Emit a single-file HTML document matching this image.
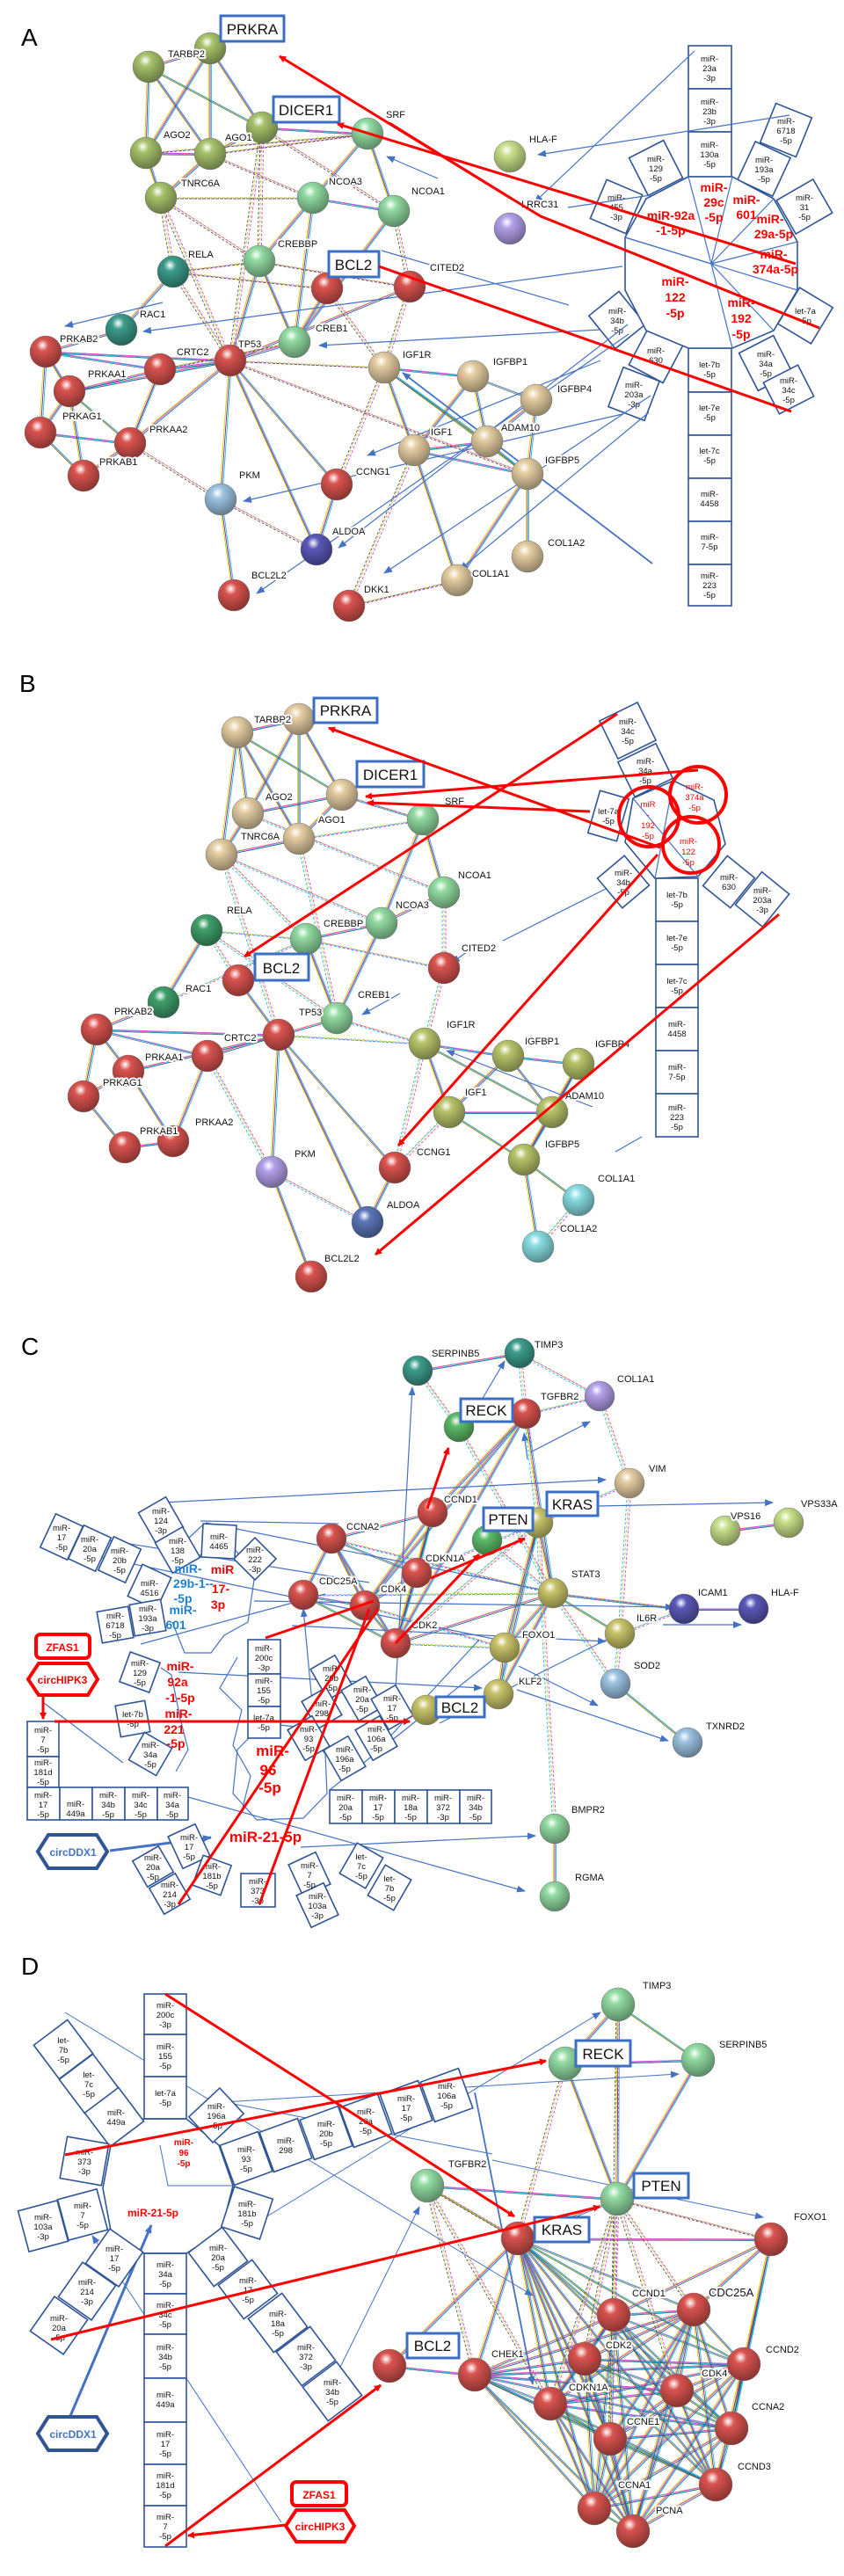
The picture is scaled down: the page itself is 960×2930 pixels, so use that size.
<!DOCTYPE html>
<html><head><meta charset="utf-8"><style>
html,body{margin:0;padding:0;background:#fff}
svg{display:block}
.l{font:11px "Liberation Sans",sans-serif;fill:#111;paint-order:stroke;stroke:#fff;stroke-width:4px;stroke-linejoin:round}
.m{font:9.5px "Liberation Sans",sans-serif;fill:#111;text-anchor:middle}
.bx{fill:#fff;stroke:#2f5597;stroke-width:1.6}
.mb{fill:none;stroke:#2f5597;stroke-width:1.6}
.bl{stroke:#4472c4;stroke-width:1.2;fill:none}
.rl{stroke:#f00;stroke-width:3;fill:none}
.kb{fill:#fff;stroke:#3a6fc4;stroke-width:3}
.kt{font:17px "Liberation Sans",sans-serif;fill:#111;text-anchor:middle}
.rt{font:bold 14px "Liberation Sans",sans-serif;fill:#f00;text-anchor:middle}
.rs{font:bold 10px "Liberation Sans",sans-serif;fill:#f00;text-anchor:middle}
.bt{font:bold 14px "Liberation Sans",sans-serif;fill:#1f7fd0;text-anchor:middle}
.P{font:28px "Liberation Sans",sans-serif;fill:#000}
.E use{stroke-width:0.9}
</style></head><body>
<svg width="960" height="2930" viewBox="0 0 960 2930" xmlns="http://www.w3.org/2000/svg" xmlns:xlink="http://www.w3.org/1999/xlink">
<defs>
<marker id="ra" markerWidth="8" markerHeight="8" refX="7" refY="4" orient="auto" markerUnits="userSpaceOnUse"><path d="M0,0 L8,4 L0,8z" fill="#f00"/></marker>
<marker id="ba" markerWidth="10" markerHeight="8" refX="9" refY="4" orient="auto" markerUnits="userSpaceOnUse"><path d="M0,0 L10,4 L0,8z" fill="#4472c4"/></marker>
<radialGradient id="gol" cx=".4" cy=".3" r=".75"><stop offset="0" stop-color="#fff"/><stop offset=".25" stop-color="#a7c26a"/><stop offset="1" stop-color="#647441"/></radialGradient>
<radialGradient id="grd" cx=".4" cy=".3" r=".75"><stop offset="0" stop-color="#fff"/><stop offset=".25" stop-color="#d9534f"/><stop offset="1" stop-color="#82322f"/></radialGradient>
<radialGradient id="gtl" cx=".4" cy=".3" r=".75"><stop offset="0" stop-color="#fff"/><stop offset=".25" stop-color="#3c9c8c"/><stop offset="1" stop-color="#245d54"/></radialGradient>
<radialGradient id="glg" cx=".4" cy=".3" r=".75"><stop offset="0" stop-color="#fff"/><stop offset=".25" stop-color="#92dba2"/><stop offset="1" stop-color="#578361"/></radialGradient>
<radialGradient id="gtn" cx=".4" cy=".3" r=".75"><stop offset="0" stop-color="#fff"/><stop offset=".25" stop-color="#e4cda2"/><stop offset="1" stop-color="#897b61"/></radialGradient>
<radialGradient id="gpu" cx=".4" cy=".3" r=".75"><stop offset="0" stop-color="#fff"/><stop offset=".25" stop-color="#b3a1ea"/><stop offset="1" stop-color="#6b608c"/></radialGradient>
<radialGradient id="gbp" cx=".4" cy=".3" r=".75"><stop offset="0" stop-color="#fff"/><stop offset=".25" stop-color="#5a58b8"/><stop offset="1" stop-color="#36356e"/></radialGradient>
<radialGradient id="glb" cx=".4" cy=".3" r=".75"><stop offset="0" stop-color="#fff"/><stop offset=".25" stop-color="#9cc3e2"/><stop offset="1" stop-color="#5e7588"/></radialGradient>
<radialGradient id="gyo" cx=".4" cy=".3" r=".75"><stop offset="0" stop-color="#fff"/><stop offset=".25" stop-color="#c9c46a"/><stop offset="1" stop-color="#79763f"/></radialGradient>
<radialGradient id="gcy" cx=".4" cy=".3" r=".75"><stop offset="0" stop-color="#fff"/><stop offset=".25" stop-color="#88dde2"/><stop offset="1" stop-color="#528588"/></radialGradient>
<radialGradient id="ggr" cx=".4" cy=".3" r=".75"><stop offset="0" stop-color="#fff"/><stop offset=".25" stop-color="#5cbc68"/><stop offset="1" stop-color="#37713e"/></radialGradient>
<radialGradient id="gdg" cx=".4" cy=".3" r=".75"><stop offset="0" stop-color="#fff"/><stop offset=".25" stop-color="#3f9f6a"/><stop offset="1" stop-color="#265f40"/></radialGradient>
<radialGradient id="gly" cx=".4" cy=".3" r=".75"><stop offset="0" stop-color="#fff"/><stop offset=".25" stop-color="#c8e08a"/><stop offset="1" stop-color="#788653"/></radialGradient>
<radialGradient id="go2" cx=".4" cy=".3" r=".75"><stop offset="0" stop-color="#fff"/><stop offset=".25" stop-color="#b8c46a"/><stop offset="1" stop-color="#6e763f"/></radialGradient>
<radialGradient id="gbb" cx=".4" cy=".3" r=".75"><stop offset="0" stop-color="#fff"/><stop offset=".25" stop-color="#5b76b8"/><stop offset="1" stop-color="#37476e"/></radialGradient>

<path id="eA" fill="none" d="M169 76L239 55M169 76L166 174M169 76L239 175M169 76L298 145M239 55L166 174M239 55L239 175M239 55L298 145M166 174L239 175M166 174L183 225M239 175L298 145M239 175L183 225M298 145L418 152M418 152L356 225M418 152L448 240M356 225L448 240M356 225L295 297M356 225L335 389M448 240L335 389M295 297L335 389M295 297L262 410M197 309L138 375M372 328L335 389M262 410L335 389M262 410L182 420M262 410L52 400M262 410L79 445M262 410L148 504M262 410L251 568M262 410L383 551M262 410L360 625M182 420L52 400M182 420L79 445M182 420L148 504M52 400L79 445M52 400L46 492M79 445L46 492M79 445L148 504M46 492L95 541M46 492L148 504M148 504L95 541M79 445L95 541M437 418L538 428M437 418L471 512M437 418L554 502M437 418L600 539M538 428L610 455M538 428L471 512M538 428L554 502M610 455L554 502M610 455L600 539M471 512L554 502M471 512L600 539M554 502L600 539M471 512L520 660M600 539L600 633M600 539L520 660M251 568L266 677M383 551L360 625M262 410L466 326M182 420L148 504M138 375L52 400"/>
<path id="dA" fill="none" d="M298 145L295 297M239 175L356 225M183 225L356 225M183 225L295 297M166 174L418 152M239 175L418 152M298 145L448 240M197 309L295 297M197 309L372 328M197 309L262 410M295 297L466 326M372 328L437 418M466 326L437 418M262 410L437 418M182 420L335 389M148 504L251 568M251 568L360 625M383 551L437 418M471 512L397 689M262 410L600 539M183 225L262 410M298 145L262 410M520 660L397 689M466 326L448 240M183 225L197 309"/>
<path id="eB" fill="none" d="M270 833L340 818M270 833L282 925M270 833L389 904M270 833L340 954M270 833L252 972M340 818L389 904M340 818L282 925M340 818L340 954M282 925L389 904M282 925L252 972M389 904L340 954M340 954L252 972M481 932L505 1015M481 932L434 1050M505 1015L434 1050M434 1050L348 1068M434 1050L383 1158M348 1068L383 1158M235 1058L186 1140M271 1115L317 1177M317 1177L110 1171M317 1177L236 1201M317 1177L146 1218M317 1177L309 1333M317 1177L449 1328M317 1177L418 1390M317 1177L383 1158M110 1171L236 1201M110 1171L95 1247M110 1171L146 1218M95 1247L142 1305M95 1247L146 1218M146 1218L197 1298M236 1201L197 1298M142 1305L197 1298M483 1187L578 1201M483 1187L511 1265M483 1187L628 1265M578 1201L658 1210M578 1201L511 1265M578 1201L628 1265M658 1210L628 1265M658 1210L596 1319M511 1265L628 1265M511 1265L596 1319M628 1265L596 1319M596 1319L658 1365M596 1319L612 1418M309 1333L354 1452M449 1328L418 1390M481 932L389 904M186 1140L110 1171"/>
<path id="dB" fill="none" d="M389 904L481 932M340 954L481 932M252 972L434 1050M252 972L348 1068M282 925L505 1015M235 1058L348 1068M235 1058L383 1158M348 1068L505 1101M505 1101L483 1187M383 1158L483 1187M317 1177L483 1187M309 1333L418 1390M449 1328L483 1187M511 1265L449 1328M236 1201L309 1333M252 972L317 1177M340 954L383 1158M612 1418L658 1365M505 1015L505 1101M348 1068L186 1140M235 1058L271 1115"/>
<path id="eC" fill="none" d="M377 1750L492 1720M377 1750L474 1789M377 1750L345 1814M377 1750L415 1826M377 1750L450 1869M345 1814L415 1826M345 1814L450 1869M415 1826L450 1869M415 1826L492 1720M474 1789L492 1720M474 1789L450 1869M474 1789L415 1826M450 1869L492 1720M492 1720L598 1608M415 1826L598 1608M450 1869L598 1608M629 1812L598 1608M629 1812L574 1874M629 1812L567 1927M629 1812L705 1858M629 1812L612 1732M574 1874L567 1927M574 1874L612 1732M567 1927L612 1732M700 1915L782 1982M778 1830L857 1830M825 1741L897 1732M631 2080L631 2157M475 1559L591 1539M629 1812L450 1869M629 1812L778 1830"/>
<path id="dC" fill="none" d="M591 1539L598 1608M591 1539L682 1588M598 1608L682 1588M682 1588L716 1687M475 1559L522 1623M598 1608L612 1732M522 1623L629 1812M612 1732L716 1687M554 1752L629 1812M377 1750L629 1812M345 1814L629 1812M450 1869L574 1874M415 1826L574 1874M629 1812L700 1915M705 1858L778 1830M705 1858L716 1687M567 1927L485 1945M631 2080L612 1732M612 1732L450 1869M474 1789L612 1732M705 1858L700 1915M629 1812L778 1830"/>
<path id="eD" fill="none" d="M589 2546L698 2633M589 2546L789 2627M589 2546L665 2683M589 2546L540 2701M589 2546L846 2689M589 2546L770 2719M589 2546L626 2734M589 2546L832 2762M589 2546L694 2774M589 2546L814 2826M589 2546L676 2853M589 2546L720 2879
M698 2633L789 2627M698 2633L665 2683M698 2633L540 2701M698 2633L846 2689M698 2633L770 2719M698 2633L626 2734M698 2633L832 2762M698 2633L694 2774M698 2633L814 2826M698 2633L676 2853M698 2633L720 2879
M789 2627L665 2683M789 2627L540 2701M789 2627L846 2689M789 2627L770 2719M789 2627L626 2734M789 2627L832 2762M789 2627L694 2774M789 2627L814 2826M789 2627L676 2853M789 2627L720 2879
M665 2683L540 2701M665 2683L846 2689M665 2683L770 2719M665 2683L626 2734M665 2683L832 2762M665 2683L694 2774M665 2683L814 2826M665 2683L676 2853M665 2683L720 2879
M540 2701L846 2689M540 2701L770 2719M540 2701L626 2734M540 2701L832 2762M540 2701L694 2774M540 2701L814 2826M540 2701L676 2853M540 2701L720 2879
M846 2689L770 2719M846 2689L626 2734M846 2689L832 2762M846 2689L694 2774M846 2689L814 2826M846 2689L676 2853M846 2689L720 2879
M770 2719L626 2734M770 2719L832 2762M770 2719L694 2774M770 2719L814 2826M770 2719L676 2853M770 2719L720 2879
M626 2734L832 2762M626 2734L694 2774M626 2734L814 2826M626 2734L676 2853M626 2734L720 2879
M832 2762L694 2774M832 2762L814 2826M832 2762L676 2853M832 2762L720 2879
M694 2774L814 2826M694 2774L676 2853M694 2774L720 2879M814 2826L676 2853M814 2826L720 2879M676 2853L720 2879
M703 2280L643 2347M703 2280L794 2343M643 2347L794 2343M703 2280L702 2501M643 2347L702 2501M794 2343L702 2501M486 2486L702 2501M486 2486L589 2546M702 2501L589 2546M589 2546L877 2547M877 2547L789 2627M877 2547L846 2689M443 2691L540 2701M443 2691L589 2546M877 2547L698 2633M877 2547L832 2762"/>
<path id="dD" fill="none" d="M702 2501L698 2633M702 2501L665 2683M702 2501L789 2627M702 2501L770 2719M702 2501L877 2547M486 2486L540 2701M486 2486L626 2734M643 2347L589 2546M703 2280L698 2633M702 2501L626 2734M486 2486L589 2546M702 2501L694 2774"/>
</defs>
<rect width="960" height="2930" fill="#fff"/>

<!-- edges -->
<g class="E">
<use xlink:href="#eA" href="#eA" stroke="#c8d400" transform="translate(-1.6,0)"/><use xlink:href="#eA" href="#eA" stroke="#e040e0"/><use xlink:href="#eA" href="#eA" stroke="#20b8e8" transform="translate(1.6,1)"/><use xlink:href="#eA" href="#eA" stroke="#333" transform="translate(0,1.8)" style="stroke-width:.5"/>
<use xlink:href="#dA" href="#dA" stroke="#b8d020" stroke-dasharray="3,2"/><use xlink:href="#dA" href="#dA" stroke="#e040e0" stroke-dasharray="3,2" transform="translate(2,1)"/><use xlink:href="#dA" href="#dA" stroke="#555" stroke-dasharray="3,2" transform="translate(-2,1)"/>
<use xlink:href="#eB" href="#eB" stroke="#c8d400" transform="translate(-1.6,0)"/><use xlink:href="#eB" href="#eB" stroke="#e040e0"/><use xlink:href="#eB" href="#eB" stroke="#20b8e8" transform="translate(1.6,1)"/><use xlink:href="#eB" href="#eB" stroke="#333" transform="translate(0,1.8)" style="stroke-width:.5"/>
<use xlink:href="#dB" href="#dB" stroke="#b8d020" stroke-dasharray="3,2"/><use xlink:href="#dB" href="#dB" stroke="#e040e0" stroke-dasharray="3,2" transform="translate(2,1)"/><use xlink:href="#dB" href="#dB" stroke="#20b8e8" stroke-dasharray="3,2" transform="translate(-2,1)"/>
<use xlink:href="#eC" href="#eC" stroke="#c8d400" transform="translate(-1.6,0)"/><use xlink:href="#eC" href="#eC" stroke="#e040e0"/><use xlink:href="#eC" href="#eC" stroke="#20b8e8" transform="translate(1.6,1)"/><use xlink:href="#eC" href="#eC" stroke="#333" transform="translate(0,1.8)" style="stroke-width:.5"/>
<use xlink:href="#dC" href="#dC" stroke="#b8d020" stroke-dasharray="3,2"/><use xlink:href="#dC" href="#dC" stroke="#e040e0" stroke-dasharray="3,2" transform="translate(2,1)"/><use xlink:href="#dC" href="#dC" stroke="#20b8e8" stroke-dasharray="3,2" transform="translate(-2,1)"/>
<use xlink:href="#eD" href="#eD" stroke="#c8d400" transform="translate(-1.6,0)"/><use xlink:href="#eD" href="#eD" stroke="#e040e0"/><use xlink:href="#eD" href="#eD" stroke="#20b8e8" transform="translate(1.6,1)"/><use xlink:href="#eD" href="#eD" stroke="#333" transform="translate(0,1.8)" style="stroke-width:.5"/>
<use xlink:href="#dD" href="#dD" stroke="#b8d020" stroke-dasharray="3,2"/><use xlink:href="#dD" href="#dD" stroke="#e040e0" stroke-dasharray="3,2" transform="translate(2,1)"/><use xlink:href="#dD" href="#dD" stroke="#555" stroke-dasharray="3,2" transform="translate(-2,1)"/>
</g>

<!-- ===== PANEL A miR ===== -->
<g>
<rect class="bx" x="783" y="52" width="49" height="49"/><rect class="bx" x="783" y="101" width="49" height="49"/><rect class="bx" x="783" y="150" width="49" height="51"/>
<rect class="bx" x="783" y="396" width="49" height="50"/><rect class="bx" x="783" y="446" width="49" height="49"/><rect class="bx" x="783" y="495" width="49" height="49"/><rect class="bx" x="783" y="544" width="49" height="49"/><rect class="bx" x="783" y="593" width="49" height="49"/><rect class="bx" x="783" y="642" width="49" height="47"/>
<g transform="translate(746,191) rotate(-27)"><rect class="bx" x="-22" y="-24" width="44" height="48"/></g>
<g transform="translate(701,235) rotate(23)"><rect class="bx" x="-22" y="-24" width="44" height="48"/></g>
<g transform="translate(894,148) rotate(22)"><rect class="bx" x="-22" y="-24" width="44" height="48"/></g>
<g transform="translate(869,192) rotate(25)"><rect class="bx" x="-22" y="-24" width="44" height="48"/></g>
<g transform="translate(915,235) rotate(60)"><rect class="bx" x="-22" y="-24" width="44" height="48"/></g>
<g transform="translate(916,359) rotate(31)"><rect class="bx" x="-22" y="-24" width="44" height="48"/></g>
<g transform="translate(871,413) rotate(-27)"><rect class="bx" x="-22" y="-24" width="44" height="48"/></g>
<g transform="translate(897,443) rotate(-27)"><rect class="bx" x="-22" y="-20" width="44" height="40"/></g>
<g transform="translate(702,364) rotate(-39)"><rect class="bx" x="-22" y="-24" width="44" height="48"/></g>
<g transform="translate(746,404) rotate(28)"><rect class="bx" x="-22" y="-24" width="44" height="48"/></g>
<g transform="translate(721,448) rotate(21)"><rect class="bx" x="-22" y="-24" width="44" height="48"/></g>
<polygon class="bx" points="783,201 833,201 880,226 907,275 907,330 880,376 833,396 783,396 735,376 711,330 711,270 735,226"/>
<g class="bl"><line x1="809" y1="300" x2="783" y2="201"/><line x1="809" y1="300" x2="833" y2="201"/><line x1="809" y1="300" x2="880" y2="226"/><line x1="809" y1="300" x2="907" y2="275"/><line x1="809" y1="300" x2="711" y2="270"/><line x1="809" y1="300" x2="833" y2="396"/><line x1="809" y1="300" x2="880" y2="376"/><line x1="711" y1="270" x2="907" y2="330"/></g>
<text class="m" x="807" y="70">miR-<tspan x="807" dy="11">23a</tspan><tspan x="807" dy="11">-3p</tspan></text>
<text class="m" x="807" y="119">miR-<tspan x="807" dy="11">23b</tspan><tspan x="807" dy="11">-3p</tspan></text>
<text class="m" x="807" y="168">miR-<tspan x="807" dy="11">130a</tspan><tspan x="807" dy="11">-5p</tspan></text>
<text class="m" x="746" y="184">miR-<tspan x="746" dy="11">129</tspan><tspan x="746" dy="11">-5p</tspan></text>
<text class="m" x="701" y="228">miR-<tspan x="701" dy="11">455</tspan><tspan x="701" dy="11">-3p</tspan></text>
<text class="m" x="894" y="141">miR-<tspan x="894" dy="11">6718</tspan><tspan x="894" dy="11">-5p</tspan></text>
<text class="m" x="869" y="185">miR-<tspan x="869" dy="11">193a</tspan><tspan x="869" dy="11">-5p</tspan></text>
<text class="m" x="915" y="228">miR-<tspan x="915" dy="11">31</tspan><tspan x="915" dy="11">-5p</tspan></text>
<text class="m" x="916" y="357">let-7a<tspan x="916" dy="11">-5p</tspan></text>
<text class="m" x="871" y="406">miR-<tspan x="871" dy="11">34a</tspan><tspan x="871" dy="11">-5p</tspan></text>
<text class="m" x="897" y="436">miR-<tspan x="897" dy="11">34c</tspan><tspan x="897" dy="11">-5p</tspan></text>
<text class="m" x="702" y="357">miR-<tspan x="702" dy="11">34b</tspan><tspan x="702" dy="11">-5p</tspan></text>
<text class="m" x="746" y="402">miR-<tspan x="746" dy="11">630</tspan></text>
<text class="m" x="721" y="441">miR-<tspan x="721" dy="11">203a</tspan><tspan x="721" dy="11">-3p</tspan></text>
<text class="m" x="807" y="418">let-7b<tspan x="807" dy="11">-5p</tspan></text>
<text class="m" x="807" y="467">let-7e<tspan x="807" dy="11">-5p</tspan></text>
<text class="m" x="807" y="516">let-7c<tspan x="807" dy="11">-5p</tspan></text>
<text class="m" x="807" y="565">miR-<tspan x="807" dy="11">4458</tspan></text>
<text class="m" x="807" y="614">miR-<tspan x="807" dy="11">7-5p</tspan></text>
<text class="m" x="807" y="658">miR-<tspan x="807" dy="11">223</tspan><tspan x="807" dy="11">-5p</tspan></text>
<text class="rt" x="763" y="250">miR-92a<tspan x="763" dy="17">-1-5p</tspan></text>
<text class="rt" x="812" y="218">miR-<tspan x="812" dy="17">29c</tspan><tspan x="812" dy="17">-5p</tspan></text>
<text class="rt" x="849" y="232">miR-<tspan x="849" dy="17">601</tspan></text>
<text class="rt" x="876" y="254">miR-<tspan x="880" dy="17">29a-5p</tspan></text>
<text class="rt" x="880" y="294">miR-<tspan x="882" dy="17">374a-5p</tspan></text>
<text class="rt" x="768" y="325">miR-<tspan x="768" dy="18">122</tspan><tspan x="768" dy="18">-5p</tspan></text>
<text class="rt" x="843" y="349">miR-<tspan x="843" dy="18">192</tspan><tspan x="843" dy="18">-5p</tspan></text>
</g>
<g class="bl">
<line x1="790" y1="58" x2="608" y2="230" marker-end="url(#ba)"/>
<line x1="898" y1="131" x2="612" y2="176" marker-end="url(#ba)"/>
<line x1="708" y1="303" x2="163" y2="377" marker-end="url(#ba)"/>
<line x1="683" y1="375" x2="363" y2="393" marker-end="url(#ba)"/>
<line x1="498" y1="203" x2="440" y2="178" marker-end="url(#ba)"/>
<line x1="708" y1="471" x2="277" y2="570" marker-end="url(#ba)"/>
<line x1="185" y1="344" x2="74" y2="371" marker-end="url(#ba)"/>
<line x1="714" y1="369" x2="385" y2="623" marker-end="url(#ba)"/>
<line x1="742" y1="641" x2="458" y2="424" marker-end="url(#ba)" stroke-width="1.8"/>
<line x1="683" y1="410" x2="418" y2="518" marker-end="url(#ba)"/>
<line x1="738" y1="469" x2="523" y2="648" marker-end="url(#ba)"/>
<line x1="715" y1="380" x2="292" y2="675" marker-end="url(#ba)"/>
<line x1="740" y1="450" x2="437" y2="652" marker-end="url(#ba)"/>
<line x1="647" y1="347" x2="434" y2="285"/>
<line x1="740" y1="222" x2="646" y2="236"/>
</g>

<!-- ===== PANEL B miR ===== -->
<g>
<rect class="bx" x="746" y="999" width="48" height="49"/><rect class="bx" x="746" y="1048" width="48" height="49"/><rect class="bx" x="746" y="1097" width="48" height="49"/><rect class="bx" x="746" y="1146" width="48" height="49"/><rect class="bx" x="746" y="1195" width="48" height="49"/><rect class="bx" x="746" y="1244" width="48" height="49"/>
<g transform="translate(714,831) rotate(-26)"><rect class="bx" x="-24" y="-24" width="48" height="48"/></g>
<g transform="translate(734,876) rotate(-26)"><rect class="bx" x="-24" y="-22" width="48" height="44"/></g>
<g transform="translate(692,928) rotate(16)"><rect class="bx" x="-17" y="-25" width="34" height="50"/></g>
<g transform="translate(709,1003) rotate(-40)"><rect class="bx" x="-20" y="-22" width="40" height="44"/></g>
<g transform="translate(829,1003) rotate(39)"><rect class="bx" x="-20" y="-22" width="40" height="44"/></g>
<g transform="translate(867,1023) rotate(39)"><rect class="bx" x="-20" y="-24" width="40" height="48"/></g>
<polygon class="bx" points="720,908 766,888 812,910 825,960 794,997 745,999 711,958"/>
<g class="bl"><line x1="766" y1="888" x2="745" y2="999"/><line x1="720" y1="908" x2="794" y2="997"/></g>
<text class="m" x="714" y="824">miR-<tspan x="714" dy="11">34c</tspan><tspan x="714" dy="11">-5p</tspan></text>
<text class="m" x="734" y="869">miR-<tspan x="734" dy="11">34a</tspan><tspan x="734" dy="11">-5p</tspan></text>
<text class="m" x="692" y="926">let-7a<tspan x="692" dy="11">-5p</tspan></text>
<text class="m" x="709" y="996">miR-<tspan x="709" dy="11">34b</tspan><tspan x="709" dy="11">-5p</tspan></text>
<text class="m" x="829" y="1001">miR-<tspan x="829" dy="11">630</tspan></text>
<text class="m" x="867" y="1016">miR-<tspan x="867" dy="11">203a</tspan><tspan x="867" dy="11">-3p</tspan></text>
<text class="m" x="770" y="1021">let-7b<tspan x="770" dy="11">-5p</tspan></text>
<text class="m" x="770" y="1070">let-7e<tspan x="770" dy="11">-5p</tspan></text>
<text class="m" x="770" y="1119">let-7c<tspan x="770" dy="11">-5p</tspan></text>
<text class="m" x="770" y="1168">miR-<tspan x="770" dy="11">4458</tspan></text>
<text class="m" x="770" y="1217">miR-<tspan x="770" dy="11">7-5p</tspan></text>
<text class="m" x="770" y="1263">miR-<tspan x="770" dy="11">223</tspan><tspan x="770" dy="11">-5p</tspan></text>
<text class="m" x="790" y="898" style="fill:#f00">miR-<tspan x="790" dy="12">374a</tspan><tspan x="790" dy="12">-5p</tspan></text>
<text class="m" x="737" y="918" style="fill:#f00">miR<tspan x="737" dy="12">-</tspan><tspan x="737" dy="12">192</tspan><tspan x="737" dy="12">-5p</tspan></text>
<text class="m" x="783" y="960" style="fill:#f00">miR-<tspan x="783" dy="12">122</tspan><tspan x="783" dy="12">-5p</tspan></text>
<g fill="none" stroke="#f00" stroke-width="4"><circle cx="738" cy="929" r="34"/><circle cx="794" cy="904" r="32"/><circle cx="786" cy="961" r="32"/></g>
</g>
<g class="bl">
<line x1="689" y1="1011" x2="572" y2="1070"/>
<line x1="535" y1="1080" x2="514" y2="1095" marker-end="url(#ba)"/>
<line x1="674" y1="1259" x2="508" y2="1195" marker-end="url(#ba)"/>
<line x1="455" y1="1130" x2="412" y2="1154" marker-end="url(#ba)"/>
<line x1="700" y1="1310" x2="730" y2="1293"/>
</g>

<!-- ===== PANEL C miR ===== -->
<g>
<g class="bl">
<polyline points="198,1765 230,1735 265,1760 290,1790 282,1845 255,1860 240,1880 210,1880 196,1845"/>
<polyline points="270,1885 250,1920 275,1945 265,1985 285,2020 275,2060"/>
<polygon points="270,1990 300,1960 345,1965 370,1995 372,2040 345,2068 292,2070 265,2040"/>
<polyline points="183,1897 195,1905 205,1955 214,1990 200,2015"/>
<line x1="46" y1="1757" x2="590" y2="1870"/>
<line x1="185" y1="1709" x2="689" y2="1683" marker-end="url(#ba)"/>
<line x1="228" y1="1730" x2="385" y2="1733"/>
<line x1="680" y1="1713" x2="879" y2="1709" marker-end="url(#ba)"/>
<line x1="754" y1="1848" x2="843" y2="1848" marker-end="url(#ba)"/>
<line x1="448" y1="1959" x2="469" y2="1578" marker-end="url(#ba)"/>
<line x1="548" y1="1592" x2="574" y2="1548" marker-end="url(#ba)"/>
<line x1="603" y1="1652" x2="671" y2="1617" marker-end="url(#ba)"/>
<line x1="588" y1="1922" x2="760" y2="1980" marker-end="url(#ba)"/>
<line x1="342" y1="2101" x2="609" y2="2088" marker-end="url(#ba)"/>
<line x1="203" y1="2041" x2="597" y2="2151" marker-end="url(#ba)"/>
<line x1="289" y1="1821" x2="766" y2="1828" marker-end="url(#ba)"/>
<line x1="332" y1="1849" x2="689" y2="1867" marker-end="url(#ba)"/>
<line x1="203" y1="1902" x2="548" y2="1920" marker-end="url(#ba)"/>
<line x1="234" y1="1732" x2="615" y2="1808"/>
<line x1="98" y1="1748" x2="420" y2="1800"/>
<line x1="50" y1="1937" x2="140" y2="2005"/>
<line x1="590" y1="1895" x2="680" y2="1940" marker-end="url(#ba)"/>
<line x1="600" y1="1660" x2="596" y2="1630" marker-end="url(#ba)"/>
<line x1="430" y1="1990" x2="545" y2="1865" />
<line x1="375" y1="2036" x2="570" y2="1880"/>
<line x1="160" y1="1870" x2="370" y2="1813"/>
<line x1="360" y1="1990" x2="345" y2="1830" marker-end="url(#ba)"/>
<line x1="500" y1="1960" x2="700" y2="1860" marker-end="url(#ba)"/>
<line x1="125" y1="2105" x2="240" y2="2090" stroke-width="3" marker-end="url(#ba)"/>
</g>
<g transform="translate(70,1748) rotate(25)"><rect class="bx" x="-17" y="-21" width="34" height="42"/></g>
<g transform="translate(102,1761) rotate(25)"><rect class="bx" x="-17" y="-21" width="34" height="42"/></g>
<g transform="translate(136,1774) rotate(25)"><rect class="bx" x="-17" y="-21" width="34" height="42"/></g>
<g transform="translate(183,1729) rotate(-30)"><rect class="bx" x="-18" y="-20" width="36" height="40"/></g>
<g transform="translate(202,1763) rotate(-30)"><rect class="bx" x="-18" y="-20" width="36" height="40"/></g>
<g transform="translate(249,1753) rotate(3)"><rect class="bx" x="-19" y="-19" width="38" height="38"/></g>
<g transform="translate(290,1773) rotate(45)"><rect class="bx" x="-17" y="-17" width="34" height="34"/></g>
<g transform="translate(170,1805) rotate(25)"><rect class="bx" x="-18" y="-20" width="36" height="40"/></g>
<g transform="translate(131,1848) rotate(-10)"><rect class="bx" x="-18" y="-18" width="36" height="36"/></g>
<g transform="translate(168,1840) rotate(-10)"><rect class="bx" x="-18" y="-18" width="36" height="36"/></g>
<g transform="translate(159,1902) rotate(20)"><rect class="bx" x="-18" y="-18" width="36" height="36"/></g>
<g transform="translate(151,1955) rotate(-10)"><rect class="bx" x="-17" y="-18" width="34" height="36"/></g>
<g transform="translate(171,1995) rotate(30)"><rect class="bx" x="-18" y="-18" width="36" height="36"/></g>
<rect class="bx" x="282" y="1865" width="37" height="39"/><rect class="bx" x="282" y="1904" width="37" height="37"/><rect class="bx" x="282" y="1941" width="37" height="36"/>
<g transform="translate(377,1908) rotate(-30)"><rect class="bx" x="-16" y="-20" width="32" height="40"/></g>
<g transform="translate(412,1932) rotate(-30)"><rect class="bx" x="-16" y="-20" width="32" height="40"/></g>
<g transform="translate(446,1942) rotate(-30)"><rect class="bx" x="-16" y="-20" width="32" height="40"/></g>
<g transform="translate(366,1943) rotate(-30)"><rect class="bx" x="-16" y="-18" width="32" height="36"/></g>
<g transform="translate(351,1977) rotate(-30)"><rect class="bx" x="-16" y="-20" width="32" height="40"/></g>
<g transform="translate(428,1977) rotate(-30)"><rect class="bx" x="-16" y="-20" width="32" height="40"/></g>
<g transform="translate(392,2000) rotate(-30)"><rect class="bx" x="-16" y="-20" width="32" height="40"/></g>
<rect class="bx" x="31" y="1958" width="36" height="40"/><rect class="bx" x="31" y="1998" width="36" height="35"/>
<rect class="bx" x="31" y="2033" width="37" height="37"/><rect class="bx" x="68" y="2033" width="37" height="37"/><rect class="bx" x="105" y="2033" width="37" height="37"/><rect class="bx" x="142" y="2033" width="37" height="37"/><rect class="bx" x="179" y="2033" width="35" height="37"/>
<rect class="bx" x="375" y="2036" width="37" height="38"/><rect class="bx" x="412" y="2036" width="37" height="38"/><rect class="bx" x="449" y="2036" width="37" height="38"/><rect class="bx" x="486" y="2036" width="37" height="38"/><rect class="bx" x="523" y="2036" width="36" height="38"/>
<g transform="translate(174,2123) rotate(-30)"><rect class="bx" x="-17" y="-17" width="34" height="34"/></g>
<g transform="translate(193,2154) rotate(-30)"><rect class="bx" x="-17" y="-17" width="34" height="34"/></g>
<g transform="translate(215,2100) rotate(-25)"><rect class="bx" x="-17" y="-20" width="34" height="40"/></g>
<g transform="translate(241,2133) rotate(20)"><rect class="bx" x="-17" y="-18" width="34" height="36"/></g>
<rect class="bx" x="274" y="2131" width="39" height="38"/>
<g transform="translate(352,2132) rotate(-25)"><rect class="bx" x="-17" y="-20" width="34" height="40"/></g>
<g transform="translate(361,2167) rotate(-25)"><rect class="bx" x="-17" y="-20" width="34" height="40"/></g>
<g transform="translate(411,2122) rotate(30)"><rect class="bx" x="-17" y="-20" width="34" height="40"/></g>
<g transform="translate(443,2147) rotate(30)"><rect class="bx" x="-17" y="-20" width="34" height="40"/></g>
<g style="font-size:9px">
<text class="m" x="70" y="1741">miR-<tspan x="70" dy="11">17</tspan><tspan x="70" dy="11">-5p</tspan></text>
<text class="m" x="102" y="1754">miR-<tspan x="102" dy="11">20a</tspan><tspan x="102" dy="11">-5p</tspan></text>
<text class="m" x="136" y="1767">miR-<tspan x="136" dy="11">20b</tspan><tspan x="136" dy="11">-5p</tspan></text>
<text class="m" x="183" y="1722">miR-<tspan x="183" dy="11">124</tspan><tspan x="183" dy="11">-3p</tspan></text>
<text class="m" x="202" y="1756">miR-<tspan x="202" dy="11">138</tspan><tspan x="202" dy="11">-5p</tspan></text>
<text class="m" x="249" y="1751">miR-<tspan x="249" dy="11">4465</tspan></text>
<text class="m" x="290" y="1766">miR-<tspan x="290" dy="11">222</tspan><tspan x="290" dy="11">-3p</tspan></text>
<text class="m" x="170" y="1804">miR-<tspan x="170" dy="11">4516</tspan></text>
<text class="m" x="131" y="1841">miR-<tspan x="131" dy="11">6718</tspan><tspan x="131" dy="11">-5p</tspan></text>
<text class="m" x="168" y="1833">miR-<tspan x="168" dy="11">193a</tspan><tspan x="168" dy="11">-3p</tspan></text>
<text class="m" x="159" y="1895">miR-<tspan x="159" dy="11">129</tspan><tspan x="159" dy="11">-5p</tspan></text>
<text class="m" x="151" y="1953">let-7b<tspan x="151" dy="11">-5p</tspan></text>
<text class="m" x="171" y="1988">miR-<tspan x="171" dy="11">34a</tspan><tspan x="171" dy="11">-5p</tspan></text>
<text class="m" x="300" y="1878">miR-<tspan x="300" dy="11">200c</tspan><tspan x="300" dy="11">-3p</tspan></text>
<text class="m" x="300" y="1915">miR-<tspan x="300" dy="11">155</tspan><tspan x="300" dy="11">-5p</tspan></text>
<text class="m" x="300" y="1957">let-7a<tspan x="300" dy="11">-5p</tspan></text>
<text class="m" x="377" y="1901">miR-<tspan x="377" dy="11">20b</tspan><tspan x="377" dy="11">-5p</tspan></text>
<text class="m" x="412" y="1925">miR-<tspan x="412" dy="11">20a</tspan><tspan x="412" dy="11">-5p</tspan></text>
<text class="m" x="446" y="1935">miR-<tspan x="446" dy="11">17</tspan><tspan x="446" dy="11">-5p</tspan></text>
<text class="m" x="366" y="1941">miR-<tspan x="366" dy="11">298</tspan></text>
<text class="m" x="351" y="1970">miR-<tspan x="351" dy="11">93</tspan><tspan x="351" dy="11">-5p</tspan></text>
<text class="m" x="428" y="1970">miR-<tspan x="428" dy="11">106a</tspan><tspan x="428" dy="11">-5p</tspan></text>
<text class="m" x="392" y="1993">miR-<tspan x="392" dy="11">196a</tspan><tspan x="392" dy="11">-5p</tspan></text>
<text class="m" x="49" y="1971">miR-<tspan x="49" dy="11">7</tspan><tspan x="49" dy="11">-5p</tspan></text>
<text class="m" x="49" y="2008">miR-<tspan x="49" dy="11">181d</tspan><tspan x="49" dy="11">-5p</tspan></text>
<text class="m" x="49" y="2045">miR-<tspan x="49" dy="11">17</tspan><tspan x="49" dy="11">-5p</tspan></text>
<text class="m" x="86" y="2055">miR-<tspan x="86" dy="11">449a</tspan></text>
<text class="m" x="123" y="2045">miR-<tspan x="123" dy="11">34b</tspan><tspan x="123" dy="11">-5p</tspan></text>
<text class="m" x="160" y="2045">miR-<tspan x="160" dy="11">34c</tspan><tspan x="160" dy="11">-5p</tspan></text>
<text class="m" x="196" y="2045">miR-<tspan x="196" dy="11">34a</tspan><tspan x="196" dy="11">-5p</tspan></text>
<text class="m" x="393" y="2048">miR-<tspan x="393" dy="11">20a</tspan><tspan x="393" dy="11">-5p</tspan></text>
<text class="m" x="430" y="2048">miR-<tspan x="430" dy="11">17</tspan><tspan x="430" dy="11">-5p</tspan></text>
<text class="m" x="467" y="2048">miR-<tspan x="467" dy="11">18a</tspan><tspan x="467" dy="11">-5p</tspan></text>
<text class="m" x="504" y="2048">miR-<tspan x="504" dy="11">372</tspan><tspan x="504" dy="11">-3p</tspan></text>
<text class="m" x="541" y="2048">miR-<tspan x="541" dy="11">34b</tspan><tspan x="541" dy="11">-5p</tspan></text>
<text class="m" x="174" y="2116">miR-<tspan x="174" dy="11">20a</tspan><tspan x="174" dy="11">-5p</tspan></text>
<text class="m" x="193" y="2147">miR-<tspan x="193" dy="11">214</tspan><tspan x="193" dy="11">-3p</tspan></text>
<text class="m" x="215" y="2093">miR-<tspan x="215" dy="11">17</tspan><tspan x="215" dy="11">-5p</tspan></text>
<text class="m" x="241" y="2126">miR-<tspan x="241" dy="11">181b</tspan><tspan x="241" dy="11">-5p</tspan></text>
<text class="m" x="293" y="2143">miR-<tspan x="293" dy="11">373</tspan><tspan x="293" dy="11">-3p</tspan></text>
<text class="m" x="352" y="2125">miR-<tspan x="352" dy="11">7</tspan><tspan x="352" dy="11">-5p</tspan></text>
<text class="m" x="361" y="2160">miR-<tspan x="361" dy="11">103a</tspan><tspan x="361" dy="11">-3p</tspan></text>
<text class="m" x="411" y="2115">let-<tspan x="411" dy="11">7c</tspan><tspan x="411" dy="11">-5p</tspan></text>
<text class="m" x="443" y="2140">let-<tspan x="443" dy="11">7b</tspan><tspan x="443" dy="11">-5p</tspan></text>
</g>
<text class="bt" x="214" y="1789">miR-<tspan x="220" dy="17">29b-1--</tspan><tspan x="208" dy="17">-5p</tspan></text>
<text class="bt" x="208" y="1836">miR-<tspan x="200" dy="17">601</tspan></text>
<text class="rt" x="253" y="1790">miR<tspan x="251" dy="22">17-</tspan><tspan x="248" dy="18">3p</tspan></text>
<text class="rt" x="205" y="1900">miR-<tspan x="202" dy="18">92a</tspan><tspan x="205" dy="18">-1-5p</tspan></text>
<text class="rt" x="203" y="1954">miR-<tspan x="198" dy="18">221</tspan><tspan x="200" dy="16">-5p</tspan></text>
<text class="rt" x="310" y="1997" style="font-size:17px">miR-<tspan x="305" dy="22">96</tspan><tspan x="307" dy="20">-5p</tspan></text>
<text class="rt" x="302" y="2095" style="font-size:17px">miR-21-5p</text>
<rect x="41" y="1859" width="61" height="27" rx="5" fill="#fff" stroke="#f00" stroke-width="4"/>
<text x="71" y="1878" style="font:bold 12px 'Liberation Sans',sans-serif;fill:#f00;text-anchor:middle">ZFAS1</text>
<polygon points="32,1910 44,1892 100,1892 111,1910 100,1928 44,1928" fill="#fff" stroke="#f00" stroke-width="4"/>
<text x="71" y="1915" style="font:bold 12px 'Liberation Sans',sans-serif;fill:#f00;text-anchor:middle">circHIPK3</text>
<polygon points="43,2106 55,2087 110,2087 122,2106 110,2125 55,2125" fill="#fff" stroke="#2f5597" stroke-width="4"/>
<text x="83" y="2111" style="font:bold 12px 'Liberation Sans',sans-serif;fill:#4472c4;text-anchor:middle">circDDX1</text>
</g>

<!-- ===== PANEL D miR ===== -->
<g>
<g class="bl">
<line x1="74" y1="2289" x2="606" y2="2611" marker-end="url(#ba)" stroke-width="1"/>
<line x1="320" y1="2869" x2="105" y2="2543" marker-end="url(#ba)" stroke-width="1"/>
<line x1="363" y1="2741" x2="477" y2="2510" marker-end="url(#ba)" stroke-width="1"/>
<line x1="302" y1="2522" x2="683" y2="2289" marker-end="url(#ba)" stroke-width="1"/>
<line x1="255" y1="2391" x2="772" y2="2359" marker-end="url(#ba)" stroke-width="1"/>
<line x1="255" y1="2391" x2="560" y2="2450" stroke-width="1"/>
<line x1="560" y1="2457" x2="868" y2="2522" marker-end="url(#ba)" stroke-width="1"/>
<line x1="540" y1="2380" x2="606" y2="2712" marker-end="url(#ba)" stroke-width="1.8"/>
<line x1="80" y1="2748" x2="172" y2="2531" marker-end="url(#ba)" stroke-width="3"/>
<polyline points="182,2440 191,2486 265,2486" stroke-width="1"/>
</g>
<rect class="bx" x="164" y="2268" width="48" height="46"/><rect class="bx" x="164" y="2314" width="48" height="48"/><rect class="bx" x="164" y="2362" width="48" height="48"/>
<rect class="bx" x="164" y="2563" width="48" height="46"/><rect class="bx" x="164" y="2609" width="48" height="46"/><rect class="bx" x="164" y="2655" width="48" height="50"/><rect class="bx" x="164" y="2705" width="48" height="50"/><rect class="bx" x="164" y="2755" width="48" height="48"/><rect class="bx" x="164" y="2803" width="48" height="47"/><rect class="bx" x="164" y="2850" width="48" height="47"/>
<polygon class="mb" points="163,2410 212,2410 249,2440 265,2486 252,2537 212,2563 163,2563 126,2537 117,2489 126,2440" stroke-width="3"/>
<g transform="translate(72,2331) rotate(-37)"><rect class="bx" x="-24" y="-24" width="48" height="48"/></g>
<g transform="translate(101,2370) rotate(-37)"><rect class="bx" x="-24" y="-24" width="48" height="48"/></g>
<g transform="translate(130,2408) rotate(-37)"><rect class="bx" x="-24" y="-24" width="48" height="48"/></g>
<g transform="translate(246,2406) rotate(-43)"><rect class="bx" x="-24" y="-20" width="48" height="40"/></g>
<g transform="translate(280,2455) rotate(-20)"><rect class="bx" x="-23" y="-24" width="46" height="48"/></g>
<g transform="translate(325,2440) rotate(-20)"><rect class="bx" x="-23" y="-24" width="46" height="48"/></g>
<g transform="translate(371,2426) rotate(-20)"><rect class="bx" x="-23" y="-24" width="46" height="48"/></g>
<g transform="translate(416,2412) rotate(-20)"><rect class="bx" x="-23" y="-24" width="46" height="48"/></g>
<g transform="translate(462,2397) rotate(-20)"><rect class="bx" x="-23" y="-24" width="46" height="48"/></g>
<g transform="translate(508,2383) rotate(-20)"><rect class="bx" x="-23" y="-24" width="46" height="48"/></g>
<g transform="translate(96,2458) rotate(10)"><rect class="bx" x="-24" y="-24" width="48" height="48"/></g>
<g transform="translate(94,2519) rotate(-15)"><rect class="bx" x="-23" y="-24" width="46" height="48"/></g>
<g transform="translate(49,2532) rotate(-15)"><rect class="bx" x="-23" y="-24" width="46" height="48"/></g>
<g transform="translate(281,2517) rotate(18)"><rect class="bx" x="-23" y="-24" width="46" height="48"/></g>
<g transform="translate(130,2568) rotate(35)"><rect class="bx" x="-23" y="-24" width="46" height="48"/></g>
<g transform="translate(99,2606) rotate(35)"><rect class="bx" x="-23" y="-24" width="46" height="48"/></g>
<g transform="translate(67,2645) rotate(35)"><rect class="bx" x="-23" y="-24" width="46" height="48"/></g>
<g transform="translate(248,2567) rotate(-37)"><rect class="bx" x="-24" y="-24" width="48" height="48"/></g>
<g transform="translate(282,2604) rotate(-37)"><rect class="bx" x="-24" y="-24" width="48" height="48"/></g>
<g transform="translate(316,2642) rotate(-37)"><rect class="bx" x="-24" y="-24" width="48" height="48"/></g>
<g transform="translate(348,2680) rotate(-37)"><rect class="bx" x="-24" y="-24" width="48" height="48"/></g>
<g transform="translate(378,2720) rotate(-37)"><rect class="bx" x="-24" y="-24" width="48" height="48"/></g>
<text class="m" x="188" y="2284">miR-<tspan x="188" dy="11">200c</tspan><tspan x="188" dy="11">-3p</tspan></text>
<text class="m" x="188" y="2331">miR-<tspan x="188" dy="11">155</tspan><tspan x="188" dy="11">-5p</tspan></text>
<text class="m" x="188" y="2384">let-7a<tspan x="188" dy="11">-5p</tspan></text>
<text class="m" x="188" y="2579">miR-<tspan x="188" dy="11">34a</tspan><tspan x="188" dy="11">-5p</tspan></text>
<text class="m" x="188" y="2625">miR-<tspan x="188" dy="11">34c</tspan><tspan x="188" dy="11">-5p</tspan></text>
<text class="m" x="188" y="2673">miR-<tspan x="188" dy="11">34b</tspan><tspan x="188" dy="11">-5p</tspan></text>
<text class="m" x="188" y="2727">miR-<tspan x="188" dy="11">449a</tspan></text>
<text class="m" x="188" y="2772">miR-<tspan x="188" dy="11">17</tspan><tspan x="188" dy="11">-5p</tspan></text>
<text class="m" x="188" y="2819">miR-<tspan x="188" dy="11">181d</tspan><tspan x="188" dy="11">-5p</tspan></text>
<text class="m" x="188" y="2866">miR-<tspan x="188" dy="11">7</tspan><tspan x="188" dy="11">-5p</tspan></text>
<text class="m" x="72" y="2324">let-<tspan x="72" dy="11">7b</tspan><tspan x="72" dy="11">-5p</tspan></text>
<text class="m" x="101" y="2363">let-<tspan x="101" dy="11">7c</tspan><tspan x="101" dy="11">-5p</tspan></text>
<text class="m" x="132" y="2406">miR-<tspan x="132" dy="11">449a</tspan></text>
<text class="m" x="246" y="2399">miR-<tspan x="246" dy="11">196a</tspan><tspan x="246" dy="11">-5p</tspan></text>
<text class="m" x="280" y="2448">miR-<tspan x="280" dy="11">93</tspan><tspan x="280" dy="11">-5p</tspan></text>
<text class="m" x="325" y="2438">miR-<tspan x="325" dy="11">298</tspan></text>
<text class="m" x="371" y="2419">miR-<tspan x="371" dy="11">20b</tspan><tspan x="371" dy="11">-5p</tspan></text>
<text class="m" x="416" y="2405">miR-<tspan x="416" dy="11">20a</tspan><tspan x="416" dy="11">-5p</tspan></text>
<text class="m" x="462" y="2390">miR-<tspan x="462" dy="11">17</tspan><tspan x="462" dy="11">-5p</tspan></text>
<text class="m" x="508" y="2376">miR-<tspan x="508" dy="11">106a</tspan><tspan x="508" dy="11">-5p</tspan></text>
<text class="m" x="96" y="2451">miR-<tspan x="96" dy="11">373</tspan><tspan x="96" dy="11">-3p</tspan></text>
<text class="m" x="94" y="2512">miR-<tspan x="94" dy="11">7</tspan><tspan x="94" dy="11">-5p</tspan></text>
<text class="m" x="49" y="2525">miR-<tspan x="49" dy="11">103a</tspan><tspan x="49" dy="11">-3p</tspan></text>
<text class="m" x="281" y="2510">miR-<tspan x="281" dy="11">181b</tspan><tspan x="281" dy="11">-5p</tspan></text>
<text class="m" x="130" y="2561">miR-<tspan x="130" dy="11">17</tspan><tspan x="130" dy="11">-5p</tspan></text>
<text class="m" x="99" y="2599">miR-<tspan x="99" dy="11">214</tspan><tspan x="99" dy="11">-3p</tspan></text>
<text class="m" x="67" y="2640">miR-<tspan x="67" dy="11">20a</tspan><tspan x="67" dy="11">-5p</tspan></text>
<text class="m" x="248" y="2560">miR-<tspan x="248" dy="11">20a</tspan><tspan x="248" dy="11">-5p</tspan></text>
<text class="m" x="282" y="2597">miR-<tspan x="282" dy="11">17</tspan><tspan x="282" dy="11">-5p</tspan></text>
<text class="m" x="316" y="2635">miR-<tspan x="316" dy="11">18a</tspan><tspan x="316" dy="11">-5p</tspan></text>
<text class="m" x="348" y="2673">miR-<tspan x="348" dy="11">372</tspan><tspan x="348" dy="11">-3p</tspan></text>
<text class="m" x="378" y="2713">miR-<tspan x="378" dy="11">34b</tspan><tspan x="378" dy="11">-5p</tspan></text>
<text class="rs" x="209" y="2440">miR-<tspan x="209" dy="12">96</tspan><tspan x="209" dy="12">-5p</tspan></text>
<text class="rs" x="174" y="2521" style="font-size:12px">miR-21-5p</text>
<polygon points="43,2768 55,2749 110,2749 122,2768 110,2787 55,2787" fill="#fff" stroke="#2f5597" stroke-width="4"/>
<text x="83" y="2773" style="font:bold 12px 'Liberation Sans',sans-serif;fill:#4472c4;text-anchor:middle">circDDX1</text>
<rect x="332" y="2823" width="62" height="27" rx="5" fill="#fff" stroke="#f00" stroke-width="4"/>
<text x="363" y="2842" style="font:bold 12px 'Liberation Sans',sans-serif;fill:#f00;text-anchor:middle">ZFAS1</text>
<polygon points="325,2873 337,2855 392,2855 403,2873 392,2891 337,2891" fill="#fff" stroke="#f00" stroke-width="4"/>
<text x="364" y="2878" style="font:bold 12px 'Liberation Sans',sans-serif;fill:#f00;text-anchor:middle">circHIPK3</text>
</g>

<!-- nodes -->
<g stroke="#777" stroke-width="0.5">
<circle cx="169" cy="76" r="18" fill="url(#gol)"/><circle cx="239" cy="55" r="18" fill="url(#gol)"/><circle cx="166" cy="174" r="18" fill="url(#gol)"/><circle cx="239" cy="175" r="18" fill="url(#gol)"/><circle cx="298" cy="145" r="18" fill="url(#gol)"/><circle cx="183" cy="225" r="18" fill="url(#gol)"/>
<circle cx="418" cy="152" r="18" fill="url(#glg)"/><circle cx="356" cy="225" r="18" fill="url(#glg)"/><circle cx="448" cy="240" r="18" fill="url(#glg)"/><circle cx="295" cy="297" r="18" fill="url(#glg)"/><circle cx="197" cy="309" r="18" fill="url(#gtl)"/><circle cx="372" cy="328" r="18" fill="url(#grd)"/><circle cx="466" cy="326" r="18" fill="url(#grd)"/><circle cx="138" cy="375" r="18" fill="url(#gtl)"/><circle cx="335" cy="389" r="18" fill="url(#glg)"/>
<circle cx="52" cy="400" r="18" fill="url(#grd)"/><circle cx="182" cy="420" r="18" fill="url(#grd)"/><circle cx="262" cy="410" r="18" fill="url(#grd)"/><circle cx="437" cy="418" r="18" fill="url(#gtn)"/><circle cx="538" cy="428" r="18" fill="url(#gtn)"/><circle cx="610" cy="455" r="18" fill="url(#gtn)"/><circle cx="79" cy="445" r="18" fill="url(#grd)"/><circle cx="46" cy="492" r="18" fill="url(#grd)"/><circle cx="148" cy="504" r="18" fill="url(#grd)"/><circle cx="95" cy="541" r="18" fill="url(#grd)"/>
<circle cx="471" cy="512" r="18" fill="url(#gtn)"/><circle cx="554" cy="502" r="18" fill="url(#gtn)"/><circle cx="600" cy="539" r="18" fill="url(#gtn)"/><circle cx="251" cy="568" r="18" fill="url(#glb)"/><circle cx="383" cy="551" r="18" fill="url(#grd)"/><circle cx="360" cy="625" r="18" fill="url(#gbp)"/><circle cx="600" cy="633" r="18" fill="url(#gtn)"/><circle cx="520" cy="660" r="18" fill="url(#gtn)"/><circle cx="266" cy="677" r="18" fill="url(#grd)"/><circle cx="397" cy="689" r="18" fill="url(#grd)"/>
<circle cx="580" cy="178" r="18" fill="url(#gly)"/><circle cx="580" cy="260" r="18" fill="url(#gpu)"/>

<circle cx="270" cy="833" r="18" fill="url(#gtn)"/><circle cx="340" cy="818" r="18" fill="url(#gtn)"/><circle cx="389" cy="904" r="18" fill="url(#gtn)"/><circle cx="282" cy="925" r="18" fill="url(#gtn)"/><circle cx="340" cy="954" r="18" fill="url(#gtn)"/><circle cx="252" cy="972" r="18" fill="url(#gtn)"/>
<circle cx="481" cy="932" r="18" fill="url(#glg)"/><circle cx="505" cy="1015" r="18" fill="url(#glg)"/><circle cx="434" cy="1050" r="18" fill="url(#glg)"/><circle cx="235" cy="1058" r="18" fill="url(#gdg)"/><circle cx="348" cy="1068" r="18" fill="url(#glg)"/><circle cx="271" cy="1115" r="18" fill="url(#grd)"/><circle cx="505" cy="1101" r="18" fill="url(#grd)"/><circle cx="186" cy="1140" r="18" fill="url(#gdg)"/><circle cx="383" cy="1158" r="18" fill="url(#glg)"/>
<circle cx="110" cy="1171" r="18" fill="url(#grd)"/><circle cx="317" cy="1177" r="18" fill="url(#grd)"/><circle cx="483" cy="1187" r="18" fill="url(#go2)"/><circle cx="578" cy="1201" r="18" fill="url(#go2)"/><circle cx="658" cy="1210" r="18" fill="url(#go2)"/><circle cx="236" cy="1201" r="18" fill="url(#grd)"/><circle cx="95" cy="1247" r="18" fill="url(#grd)"/><circle cx="146" cy="1218" r="18" fill="url(#grd)"/>
<circle cx="511" cy="1265" r="18" fill="url(#go2)"/><circle cx="628" cy="1265" r="18" fill="url(#go2)"/><circle cx="142" cy="1305" r="18" fill="url(#grd)"/><circle cx="197" cy="1298" r="18" fill="url(#grd)"/><circle cx="309" cy="1333" r="18" fill="url(#gpu)"/><circle cx="449" cy="1328" r="18" fill="url(#grd)"/><circle cx="596" cy="1319" r="18" fill="url(#go2)"/><circle cx="418" cy="1390" r="18" fill="url(#gbb)"/><circle cx="658" cy="1365" r="18" fill="url(#gcy)"/><circle cx="612" cy="1418" r="18" fill="url(#gcy)"/><circle cx="354" cy="1452" r="18" fill="url(#grd)"/>

<circle cx="475" cy="1559" r="17" fill="url(#gtl)"/><circle cx="591" cy="1539" r="17" fill="url(#gtl)"/><circle cx="682" cy="1588" r="17" fill="url(#gpu)"/><circle cx="598" cy="1608" r="17" fill="url(#grd)"/><circle cx="522" cy="1623" r="17" fill="url(#ggr)"/><circle cx="716" cy="1687" r="17" fill="url(#gtn)"/><circle cx="492" cy="1720" r="17" fill="url(#grd)"/><circle cx="612" cy="1732" r="17" fill="url(#gyo)"/><circle cx="554" cy="1752" r="17" fill="url(#ggr)"/>
<circle cx="377" cy="1750" r="17" fill="url(#grd)"/><circle cx="474" cy="1789" r="17" fill="url(#grd)"/><circle cx="345" cy="1814" r="17" fill="url(#grd)"/><circle cx="415" cy="1826" r="17" fill="url(#grd)"/><circle cx="450" cy="1869" r="17" fill="url(#grd)"/><circle cx="629" cy="1812" r="17" fill="url(#gyo)"/><circle cx="778" cy="1830" r="17" fill="url(#gbp)"/><circle cx="857" cy="1830" r="17" fill="url(#gbp)"/><circle cx="705" cy="1858" r="17" fill="url(#gyo)"/>
<circle cx="574" cy="1874" r="17" fill="url(#gyo)"/><circle cx="700" cy="1915" r="17" fill="url(#glb)"/><circle cx="567" cy="1927" r="17" fill="url(#gyo)"/><circle cx="485" cy="1945" r="17" fill="url(#gyo)"/><circle cx="782" cy="1982" r="17" fill="url(#glb)"/><circle cx="825" cy="1741" r="17" fill="url(#gly)"/><circle cx="897" cy="1732" r="17" fill="url(#gly)"/><circle cx="631" cy="2080" r="17" fill="url(#glg)"/><circle cx="631" cy="2157" r="17" fill="url(#glg)"/>

<circle cx="703" cy="2280" r="19" fill="url(#glg)"/><circle cx="643" cy="2347" r="19" fill="url(#glg)"/><circle cx="794" cy="2343" r="19" fill="url(#glg)"/><circle cx="486" cy="2486" r="19" fill="url(#glg)"/><circle cx="702" cy="2501" r="19" fill="url(#glg)"/>
<circle cx="589" cy="2546" r="19" fill="url(#grd)"/><circle cx="877" cy="2547" r="19" fill="url(#grd)"/><circle cx="698" cy="2633" r="19" fill="url(#grd)"/><circle cx="789" cy="2627" r="19" fill="url(#grd)"/><circle cx="665" cy="2683" r="19" fill="url(#grd)"/><circle cx="443" cy="2691" r="19" fill="url(#grd)"/><circle cx="540" cy="2701" r="19" fill="url(#grd)"/><circle cx="846" cy="2689" r="19" fill="url(#grd)"/><circle cx="770" cy="2719" r="19" fill="url(#grd)"/><circle cx="626" cy="2734" r="19" fill="url(#grd)"/><circle cx="832" cy="2762" r="19" fill="url(#grd)"/><circle cx="694" cy="2774" r="19" fill="url(#grd)"/><circle cx="814" cy="2826" r="19" fill="url(#grd)"/><circle cx="676" cy="2853" r="19" fill="url(#grd)"/><circle cx="720" cy="2879" r="19" fill="url(#grd)"/>
</g>

<!-- labels -->
<g class="l">
<text x="191" y="65">TARBP2</text><text x="186" y="157">AGO2</text><text x="256" y="160">AGO1</text><text x="439" y="134">SRF</text><text x="206" y="212">TNRC6A</text><text x="374" y="210">NCOA3</text><text x="468" y="221">NCOA1</text><text x="602" y="162">HLA-F</text><text x="593" y="236">LRRC31</text><text x="316" y="281">CREBBP</text><text x="214" y="293">RELA</text><text x="489" y="308">CITED2</text><text x="159" y="361">RAC1</text><text x="359" y="377">CREB1</text><text x="68" y="389">PRKAB2</text><text x="201" y="404">CRTC2</text><text x="271" y="395">TP53</text><text x="458" y="407">IGF1R</text><text x="561" y="415">IGFBP1</text><text x="634" y="446">IGFBP4</text><text x="100" y="429">PRKAA1</text><text x="71" y="477">PRKAG1</text><text x="170" y="492">PRKAA2</text><text x="490" y="495">IGF1</text><text x="570" y="490">ADAM10</text><text x="113" y="529">PRKAB1</text><text x="620" y="527">IGFBP5</text><text x="272" y="544">PKM</text><text x="405" y="540">CCNG1</text><text x="378" y="608">ALDOA</text><text x="623" y="621">COL1A2</text><text x="537" y="656">COL1A1</text><text x="286" y="658">BCL2L2</text><text x="414" y="674">DKK1</text>
<text x="289" y="822">TARBP2</text><text x="302" y="910">AGO2</text><text x="362" y="936">AGO1</text><text x="274" y="955">TNRC6A</text><text x="506" y="915">SRF</text><text x="521" y="999">NCOA1</text><text x="450" y="1033">NCOA3</text><text x="258" y="1039">RELA</text><text x="368" y="1054">CREBBP</text><text x="525" y="1082">CITED2</text><text x="211" y="1128">RAC1</text><text x="407" y="1135">CREB1</text><text x="340" y="1155">TP53</text><text x="130" y="1154">PRKAB2</text><text x="255" y="1184">CRTC2</text><text x="508" y="1169">IGF1R</text><text x="597" y="1188">IGFBP1</text><text x="677" y="1191">IGFBP4</text><text x="165" y="1206">PRKAA1</text><text x="117" y="1235">PRKAG1</text><text x="529" y="1246">IGF1</text><text x="643" y="1250">ADAM10</text><text x="222" y="1280">PRKAA2</text><text x="159" y="1290">PRKAB1</text><text x="335" y="1316">PKM</text><text x="474" y="1314">CCNG1</text><text x="620" y="1305">IGFBP5</text><text x="680" y="1344">COL1A1</text><text x="440" y="1374">ALDOA</text><text x="637" y="1401">COL1A2</text><text x="369" y="1435">BCL2L2</text>
<text x="491" y="1543">SERPINB5</text><text x="608" y="1533">TIMP3</text><text x="702" y="1572">COL1A1</text><text x="615" y="1592">TGFBR2</text><text x="738" y="1674">VIM</text><text x="505" y="1709">CCND1</text><text x="394" y="1740">CCNA2</text><text x="831" y="1728">VPS16</text><text x="911" y="1714">VPS33A</text><text x="484" y="1776">CDKN1A</text><text x="650" y="1794">STAT3</text><text x="363" y="1802">CDC25A</text><text x="433" y="1811">CDK4</text><text x="794" y="1815">ICAM1</text><text x="877" y="1815">HLA-F</text><text x="724" y="1844">IL6R</text><text x="468" y="1852">CDK2</text><text x="594" y="1863">FOXO1</text><text x="721" y="1898">SOD2</text><text x="590" y="1916">KLF2</text><text x="803" y="1967">TXNRD2</text><text x="650" y="2062">BMPR2</text><text x="654" y="2139">RGMA</text>
<text x="731" y="2262">TIMP3</text><text x="818" y="2329">SERPINB5</text><text x="510" y="2465">TGFBR2</text><text x="903" y="2525">FOXO1</text><text x="719" y="2612">CCND1</text><text x="806" y="2612" style="font-size:13px">CDC25A</text><text x="871" y="2676">CCND2</text><text x="689" y="2671">CDK2</text><text x="559" y="2681">CHEK1</text><text x="798" y="2703">CDK4</text><text x="647" y="2719">CDKN1A</text><text x="855" y="2741">CCNA2</text><text x="713" y="2758">CCNE1</text><text x="839" y="2809">CCND3</text><text x="703" y="2830">CCNA1</text><text x="746" y="2859">PCNA</text>
</g>

<!-- key boxes -->
<g>
<rect class="kb" x="251" y="18" width="72" height="29"/><text class="kt" x="287" y="39">PRKRA</text>
<rect class="kb" x="311" y="110" width="75" height="29"/><text class="kt" x="348" y="131">DICER1</text>
<rect class="kb" x="374" y="286" width="57" height="29"/><text class="kt" x="402" y="307">BCL2</text>
<rect class="kb" x="357" y="794" width="72" height="28"/><text class="kt" x="393" y="814">PRKRA</text>
<rect class="kb" x="406" y="866" width="76" height="29"/><text class="kt" x="444" y="887">DICER1</text>
<rect class="kb" x="290" y="1085" width="61" height="30"/><text class="kt" x="320" y="1107">BCL2</text>
<rect class="kb" x="524" y="1591" width="59" height="26"/><text class="kt" x="553" y="1610">RECK</text>
<rect class="kb" x="550" y="1715" width="56" height="26"/><text class="kt" x="578" y="1734">PTEN</text>
<rect class="kb" x="622" y="1697" width="58" height="27"/><text class="kt" x="651" y="1717">KRAS</text>
<rect class="kb" x="496" y="1930" width="55" height="23"/><text class="kt" x="523" y="1948">BCL2</text>
<rect class="kb" x="655" y="2321" width="62" height="29"/><text class="kt" x="686" y="2342">RECK</text>
<rect class="kb" x="721" y="2472" width="62" height="28"/><text class="kt" x="752" y="2492">PTEN</text>
<rect class="kb" x="608" y="2522" width="62" height="28"/><text class="kt" x="639" y="2542">KRAS</text>
<rect class="kb" x="463" y="2654" width="59" height="28"/><text class="kt" x="492" y="2674">BCL2</text>
</g>

<!-- red arrows -->
<g class="rl">
<line x1="905" y1="300" x2="384" y2="141" marker-end="url(#ra)"/>
<polyline points="932,373 615,246 582,226 318,64" marker-end="url(#ra)"/>
<line x1="582" y1="226" x2="443" y2="140"/>
<line x1="431" y1="303" x2="900" y2="468"/>
<line x1="794" y1="876" x2="416" y2="906" marker-end="url(#ra)"/>
<line x1="671" y1="923" x2="418" y2="913" marker-end="url(#ra)"/>
<line x1="751" y1="964" x2="374" y2="828" marker-end="url(#ra)"/>
<line x1="702" y1="812" x2="278" y2="1088" marker-end="url(#ra)"/>
<line x1="748" y1="972" x2="453" y2="1303" marker-end="url(#ra)"/>
<line x1="886" y1="1040" x2="427" y2="1427" marker-end="url(#ra)"/>
<line x1="49" y1="1930" x2="49" y2="1955" marker-end="url(#ra)"/>
<line x1="62" y1="1958" x2="466" y2="1958" marker-end="url(#ra)"/>
<line x1="203" y1="2166" x2="430" y2="1830"/>
<line x1="295" y1="2166" x2="420" y2="1830"/>
<line x1="302" y1="1863" x2="425" y2="1821"/>
<line x1="450" y1="1869" x2="545" y2="1768" marker-end="url(#ra)"/>
<line x1="490" y1="1795" x2="597" y2="1750" marker-end="url(#ra)"/>
<line x1="486" y1="1716" x2="510" y2="1647" marker-end="url(#ra)"/>
<line x1="188" y1="2268" x2="585" y2="2521" marker-end="url(#ra)"/>
<line x1="74" y1="2451" x2="621" y2="2344" marker-end="url(#ra)"/>
<line x1="58" y1="2661" x2="682" y2="2510" marker-end="url(#ra)"/>
<line x1="325" y1="2872" x2="214" y2="2884" marker-end="url(#ra)"/>
<line x1="188" y1="2896" x2="433" y2="2713" marker-end="url(#ra)"/>
</g>

<text class="P" x="24" y="52">A</text>
<text class="P" x="22" y="787">B</text>
<text class="P" x="24" y="1541">C</text>
<text class="P" x="24" y="2246">D</text>
</svg>
</body></html>
